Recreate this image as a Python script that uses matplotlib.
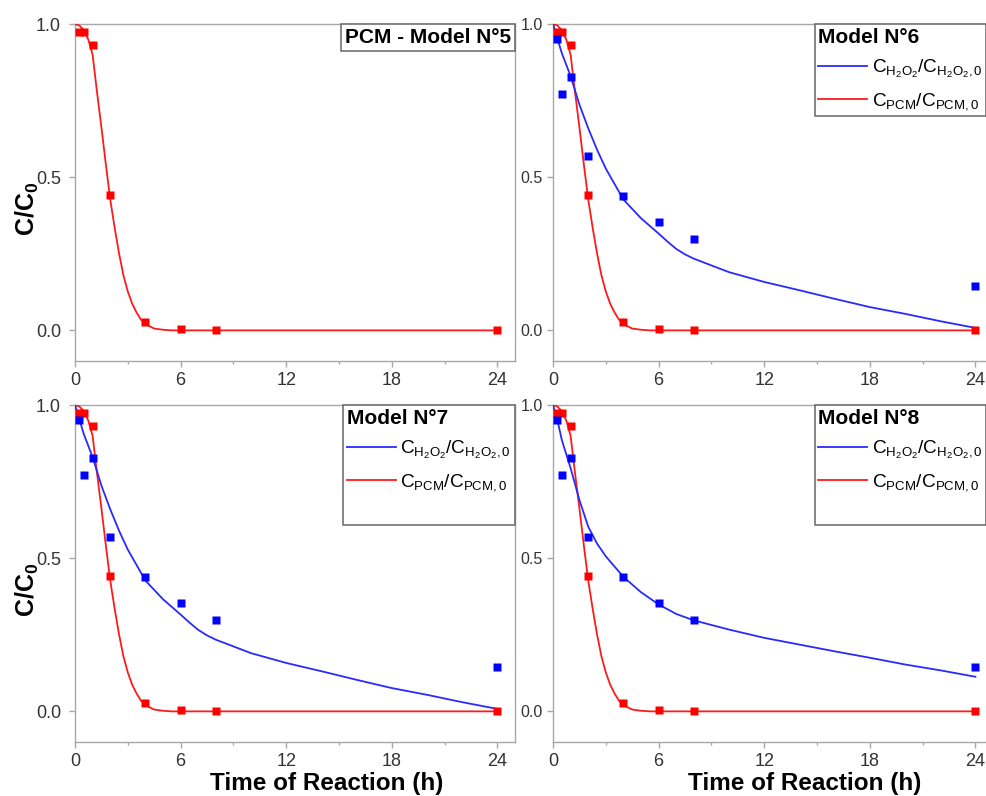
# ---------- IMPORT LIBRARIES ----------
import matplotlib
matplotlib.use("Agg")
import matplotlib.pyplot as plt
from matplotlib.lines import Line2D
from matplotlib.offsetbox import AnchoredText

plt.rcParams['font.family'] = ['Liberation Sans', 'DejaVu Sans']
plt.rcParams['mathtext.fontset'] = 'custom'
plt.rcParams['mathtext.rm'] = 'Liberation Sans'
plt.rcParams['mathtext.it'] = 'Liberation Sans:italic'
plt.rcParams['mathtext.bf'] = 'Liberation Sans:bold'


# ---------- EXPERIMENTAL DATA ----------
t_exp = [0.25, 0.5, 1, 2, 4, 6, 8, 24]
pcm_exp = [0.973, 0.973, 0.93, 0.441, 0.027, 0.005, 0.0, 0.0]
h2o2_exp = [0.95, 0.77, 0.827, 0.57, 0.437, 0.354, 0.297, 0.146]


# ---------- MODEL CURVES ----------
# PCM fit (same in all four models)
t_pcm_fit = [0, 0.25, 0.5, 0.75, 1.0, 1.25, 1.5, 1.75, 2.0, 2.25, 2.5, 2.75,
             3.0, 3.25, 3.5, 3.75, 4.0, 4.5, 5.0, 5.5, 6.0, 8.0, 24.0]
pcm_fit = [1.0, 0.995, 0.98, 0.95, 0.9, 0.778, 0.663, 0.543, 0.428, 0.336,
           0.252, 0.18, 0.127, 0.087, 0.058, 0.035, 0.02, 0.006, 0.002,
           0.0, 0.0, 0.0, 0.0]

# H2O2 fit, models 6 and 7
t_h2o2_fit = [0, 0.5, 1, 1.5, 2, 2.5, 3, 4, 5, 6, 6.5, 7, 7.5, 8, 10, 12,
              14, 16, 18, 20, 22, 24]
h2o2_fit_67 = [1.0, 0.905, 0.83, 0.737, 0.66, 0.59, 0.528, 0.427, 0.366,
               0.316, 0.29, 0.266, 0.248, 0.234, 0.19, 0.158, 0.131, 0.103,
               0.076, 0.054, 0.03, 0.008]

# H2O2 fit, model 8
t_h2o2_fit8 = [0, 0.25, 0.5, 1, 1.5, 2, 2.5, 3, 4, 5, 6, 7, 8, 10, 12, 14,
               16, 18, 20, 22, 24]
h2o2_fit_8 = [1.0, 0.951, 0.886, 0.794, 0.69, 0.603, 0.548, 0.506, 0.439,
              0.389, 0.349, 0.318, 0.297, 0.267, 0.24, 0.218, 0.196, 0.175,
              0.153, 0.134, 0.113]

titles = ['PCM - Model N°5', 'Model N°6', 'Model N°7', 'Model N°8']
h2o2_curves = [None, (t_h2o2_fit, h2o2_fit_67), (t_h2o2_fit, h2o2_fit_67),
               (t_h2o2_fit8, h2o2_fit_8)]

lbl_h2o2 = r'$\mathrm{C_{H_2O_2}/C_{H_2O_2,0}}$'
lbl_pcm = r'$\mathrm{C_{PCM}/C_{PCM,0}}$'


# ---------- FIGURE ----------
W, H = 987, 796
fig = plt.figure(figsize=(W / 100, H / 100), dpi=100)

# panel boxes in pixels: left, top
boxes = [(75, 24), (553, 24), (75, 405), (553, 405)]
aw, ah = 440, 337

for i, (left, top) in enumerate(boxes):
    ax = fig.add_axes([left / W, (H - top - ah) / H, aw / W, ah / H])

    ax.plot(t_pcm_fit, pcm_fit, color='#ff1a1a', lw=1.3, zorder=3)
    ax.plot(t_exp, pcm_exp, 's', color='#ff0000', ms=5.5, mec='none',
            zorder=4)

    ax.set_xlim(0, 25)
    ax.set_ylim(-0.1, 1.0)
    ax.set_xticks([0, 6, 12, 18, 24])
    ax.set_xticks([3, 9, 15, 21], minor=True)
    ax.set_yticks([0.0, 0.5, 1.0])
    ax.set_yticklabels(['0.0', '0.5', '1.0'])

    for s in ax.spines.values():
        s.set_color('#a8a8a8')
        s.set_linewidth(1.0)
    ax.tick_params(axis='both', which='major', direction='out', length=4,
                   width=1.0, color='#a8a8a8', labelsize=13,
                   labelcolor='#333333')
    ax.tick_params(axis='x', which='major', pad=4)
    # right-hand panels carry smaller y tick labels
    if i % 2 == 0:
        ax.tick_params(axis='y', which='major', pad=6, labelsize=13)
    else:
        ax.tick_params(axis='y', which='major', pad=3.5, labelsize=11.5)
    ax.tick_params(axis='x', which='minor', direction='out', length=2.5,
                   width=1.0, color='#a8a8a8')

    if i % 2 == 0:
        ax.set_ylabel(r'$\mathbf{C/C_0}$', fontsize=18)
        ax.yaxis.set_label_coords(-0.078, 0.45)
    if i >= 2:
        ax.set_xlabel('Time of Reaction (h)', fontsize=17.5,
                      fontweight='bold')
        ax.xaxis.set_label_coords(0.573, -0.088)

    if h2o2_curves[i] is None:
        # PCM-only panel: just a boxed title
        box = AnchoredText(titles[i], loc='upper right', frameon=True,
                           pad=0.2, borderpad=0,
                           prop=dict(size=15, weight='bold'))
        box.patch.set_edgecolor('#666666')
        box.patch.set_linewidth(1.1)
        box.patch.set_boxstyle('square,pad=0')
        box.set_zorder(5)
        ax.add_artist(box)
        continue

    tf, vf = h2o2_curves[i]
    ax.plot(tf, vf, color='#2a2aff', lw=1.3, zorder=3)
    ax.plot(t_exp, h2o2_exp, 's', color='#0000ff', ms=5.5, mec='none',
            zorder=4)

    handles = [Line2D([], [], color='#2a2aff', lw=1.3, label=lbl_h2o2),
               Line2D([], [], color='#ff1a1a', lw=1.3, label=lbl_pcm)]
    if i >= 2:
        handles.append(Line2D([], [], color='none', label=' '))

    # right column legends sit at the figure edge, keep their text inside
    anchor_x = 1.0 if i % 2 == 0 else 0.985
    leg = ax.legend(handles=handles, title=titles[i], loc='upper right',
                    bbox_to_anchor=(anchor_x, 1.0), borderaxespad=0,
                    fancybox=False, framealpha=1, edgecolor='#666666',
                    fontsize=13.7, borderpad=0.2, handlelength=2.55,
                    handletextpad=0.25, labelspacing=0.58,
                    alignment='left',
                    title_fontproperties={'weight': 'bold', 'size': 15})
    leg.get_frame().set_linewidth(1.1)
    leg.set_zorder(5)

plt.savefig('out.png', dpi=100)
